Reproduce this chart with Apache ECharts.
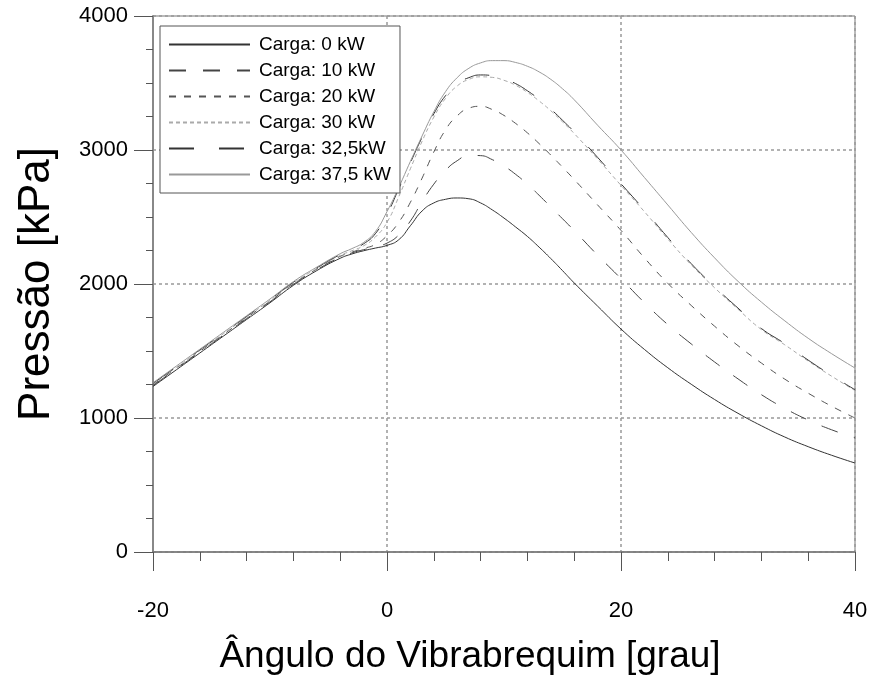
<!DOCTYPE html>
<html>
<head>
<meta charset="utf-8">
<script src="https://cdn.jsdelivr.net/npm/echarts@6/dist/echarts.min.js"></script>
<style>
  html, body { margin: 0; padding: 0; background: #fff; }
  #chart { width: 873px; height: 684px; }
</style>
</head>
<body>
<div id="chart"></div>
<script>
// crank angle [grau]
var angle = [-20, -18, -16, -14, -12, -10, -8, -6, -4, -3, -2, -1, 0, 1, 2, 3, 4, 5, 6, 7, 8, 9, 10,
  11, 12, 13, 14, 15, 16, 18, 20, 22, 24, 26, 28, 30, 32, 34, 36, 38, 40]

// pressure [kPa] per load
var carga0 = [1235, 1360, 1485, 1610, 1735, 1860, 1990, 2100, 2192, 2224, 2248, 2268, 2288, 2330, 2435, 2545, 2605, 2632, 2642, 2636, 2605, 2553, 2492,
  2425, 2355, 2275, 2190, 2100, 2008, 1835, 1664, 1512, 1375, 1252, 1138, 1035, 942, 858, 786, 722, 664]
var carga10 = [1242, 1367, 1492, 1617, 1742, 1867, 1997, 2106, 2200, 2232, 2256, 2276, 2305, 2365, 2470, 2615, 2745, 2848, 2920, 2960, 2958, 2928, 2880,
  2818, 2745, 2662, 2575, 2487, 2399, 2215, 2040, 1861, 1697, 1553, 1418, 1292, 1174, 1072, 985, 912, 852]
var carga20 = [1247, 1372, 1497, 1622, 1747, 1872, 2002, 2111, 2206, 2238, 2265, 2295, 2360, 2460, 2610, 2790, 2985, 3150, 3255, 3312, 3326, 3302, 3258,
  3198, 3128, 3048, 2962, 2872, 2780, 2590, 2400, 2195, 2005, 1840, 1685, 1540, 1410, 1290, 1185, 1088, 1000]
var carga30 = [1253, 1378, 1503, 1628, 1753, 1878, 2008, 2116, 2213, 2248, 2285, 2350, 2460, 2650, 2860, 3065, 3245, 3385, 3478, 3527, 3546, 3542, 3520,
  3483, 3430, 3366, 3293, 3210, 3123, 2933, 2736, 2540, 2336, 2143, 1972, 1812, 1660, 1546, 1425, 1312, 1205]
var carga325 = [1258, 1383, 1508, 1633, 1758, 1883, 2013, 2121, 2220, 2258, 2300, 2375, 2520, 2710, 2905, 3095, 3270, 3405, 3495, 3540, 3560, 3555, 3532,
  3495, 3442, 3378, 3305, 3222, 3135, 2945, 2748, 2552, 2347, 2152, 1980, 1820, 1668, 1555, 1432, 1318, 1211]
var carga375 = [1263, 1388, 1513, 1638, 1763, 1888, 2018, 2126, 2226, 2264, 2310, 2390, 2540, 2720, 2915, 3105, 3285, 3435, 3540, 3610, 3650, 3667, 3667,
  3653, 3625, 3583, 3527, 3457, 3375, 3185, 3000, 2795, 2590, 2385, 2195, 2020, 1865, 1725, 1595, 1480, 1373]

var nomes = ['Carga: 0 kW', 'Carga: 10 kW', 'Carga: 20 kW', 'Carga: 30 kW', 'Carga: 32,5kW', 'Carga: 37,5 kW']
var valores = [carga0, carga10, carga20, carga30, carga325, carga375]
var estilos = [
  { color: '#333', type: 'solid' },
  { color: '#444', type: [17, 17] },
  { color: '#555', type: [7, 8] },
  { color: '#aaa', type: [4, 3] },
  { color: '#333', type: [25, 25] },
  { color: '#999', type: 'solid' }
]

function pares(vals) {
  return angle.map(function(a, i) { return [a, vals[i]] })
}

var fonte = 'Liberation Sans, Arial, sans-serif'
var chart = echarts.init(document.getElementById('chart'))
chart.setOption({
  animation: false,
  backgroundColor: '#fff',
  grid: {
    left: 153,
    right: 18,
    top: 16,
    bottom: 132,
    show: true,
    borderColor: '#777',
    borderWidth: 1
  },
  legend: {
    orient: 'vertical',
    left: 160,
    top: 26,
    padding: [9, 9, 9, 8],
    itemWidth: 81,
    itemHeight: 14,
    itemGap: 7,
    selectedMode: false,
    backgroundColor: '#fff',
    borderColor: '#555',
    borderWidth: 1,
    borderRadius: 0,
    itemStyle: { opacity: 0 },
    textStyle: { fontFamily: fonte, fontSize: 19, lineHeight: 17, color: '#000', padding: [0, 0, 0, 4] },
    data: nomes
  },
  xAxis: {
    type: 'value',
    min: -20,
    max: 40,
    interval: 20,
    name: 'Ângulo do Vibrabrequim [grau]',
    nameLocation: 'middle',
    nameGap: 86,
    nameTextStyle: { fontFamily: fonte, fontSize: 37, color: '#000', padding: [0, 68, 0, 0] },
    axisLine: { onZero: false, lineStyle: { color: '#777', width: 1.5 } },
    axisTick: { inside: false, length: 19, lineStyle: { color: '#555' } },
    minorTick: { show: true, splitNumber: 5, length: 9, lineStyle: { color: '#555' } },
    axisLabel: { fontFamily: fonte, fontSize: 22, color: '#000', margin: 48 },
    splitLine: { show: true, lineStyle: { color: '#999', type: [3, 3], width: 1.5 } }
  },
  yAxis: {
    type: 'value',
    min: 0,
    max: 4000,
    interval: 1000,
    name: 'Pressão [kPa]',
    nameLocation: 'middle',
    nameGap: 94,
    nameTextStyle: { fontFamily: fonte, fontSize: 44, color: '#000' },
    axisLine: { show: true, onZero: false, lineStyle: { color: '#888', width: 2 } },
    axisTick: { show: true, inside: false, length: 19, lineStyle: { color: '#555' } },
    minorTick: { show: true, splitNumber: 4, length: 7, lineStyle: { color: '#555' } },
    axisLabel: {
      fontFamily: fonte, fontSize: 22, color: '#000', margin: 25,
      formatter: function(v) { return String(v) }
    },
    splitLine: { show: true, lineStyle: { color: '#999', type: [3, 3], width: 1.5 } }
  },
  series: nomes.map(function(n, i) {
    return {
      name: n,
      type: 'line',
      symbol: 'none',
      smooth: 0.5,
      data: pares(valores[i]),
      itemStyle: { color: estilos[i].color },
      lineStyle: { color: estilos[i].color, type: estilos[i].type, width: 1 }
    }
  })
})
</script>
</body>
</html>
